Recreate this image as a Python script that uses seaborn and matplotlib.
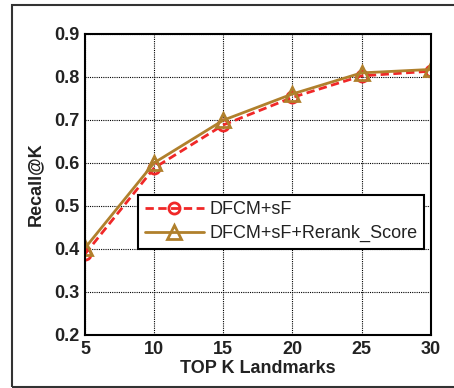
import matplotlib
matplotlib.use("Agg")
import matplotlib.pyplot as plt
import seaborn as sns
import pandas as pd
from matplotlib.patches import Rectangle

top_k = [5, 10, 15, 20, 25, 30]
recall_sf = [0.388, 0.588, 0.688, 0.752, 0.802, 0.813]
recall_rerank = [0.402, 0.600, 0.699, 0.760, 0.809, 0.817]
series_names = ["DFCM+sF", "DFCM+sF+Rerank_Score"]
y_ticks = [0.2, 0.3, 0.4, 0.5, 0.6, 0.7, 0.8, 0.9]

df = pd.DataFrame({
    "K": top_k * 2,
    "Recall": recall_sf + recall_rerank,
    "Method": [series_names[0]] * len(top_k) + [series_names[1]] * len(top_k),
})

sns.set_style("white")
plt.rcParams["font.family"] = ["Liberation Sans", "DejaVu Sans"]

fig = plt.figure(figsize=(4.54, 3.88), dpi=100)
ax = fig.add_axes([0.1872, 0.1366, 0.7615, 0.7765])

red = "#F02828"
brown = "#B0802C"

sns.lineplot(data=df[df.Method == series_names[0]], x="K", y="Recall", ax=ax,
             color=red, linestyle=(0, (3, 1.6)), linewidth=2.0, marker="o",
             markersize=8, markerfacecolor="none", markeredgecolor=red,
             markeredgewidth=2.0, label=series_names[0])
sns.lineplot(data=df[df.Method == series_names[1]], x="K", y="Recall", ax=ax,
             color=brown, linestyle="-", linewidth=2.0, marker="^",
             markersize=10, markerfacecolor="none", markeredgecolor=brown,
             markeredgewidth=2.0, label=series_names[1])

ax.set_xlim(5, 30)
ax.set_ylim(0.2, 0.9)
ax.set_xticks(top_k)
ax.set_yticks(y_ticks)
ax.set_xticklabels([str(k) for k in top_k])
ax.set_yticklabels([f"{v:.1f}" for v in y_ticks])
ax.grid(True, color="black", linestyle=(0, (1, 1)), linewidth=0.8)
for s in ax.spines.values():
    s.set_color("black")
    s.set_linewidth(1.5)
ax.tick_params(direction="in", length=4, width=1.2, labelsize=13, pad=4,
               colors="black")
for lab in ax.get_xticklabels() + ax.get_yticklabels():
    lab.set_fontweight("bold")
    lab.set_color("#222222")

ax.set_xlabel("TOP K Landmarks", fontsize=13, fontweight="bold", color="#222222", labelpad=2)
ax.set_ylabel("Recall@K", fontsize=13, fontweight="bold", color="#222222", labelpad=7)

leg = ax.legend(loc="upper left", bbox_to_anchor=(0.154, 0.466), fontsize=13,
                frameon=True, fancybox=False, edgecolor="black", framealpha=1,
                handlelength=3.3, borderpad=0.35, labelspacing=0.4, handletextpad=0.3,
                borderaxespad=0)
leg.get_frame().set_linewidth(1.5)
for t in leg.get_texts():
    t.set_color("#222222")

fig.patches.append(Rectangle((12 / 454, 1 / 388), 460 / 454, 382 / 388,
                             transform=fig.transFigure, fill=False,
                             edgecolor="#333333", linewidth=1.5))

fig.savefig("out.png", dpi=100)
